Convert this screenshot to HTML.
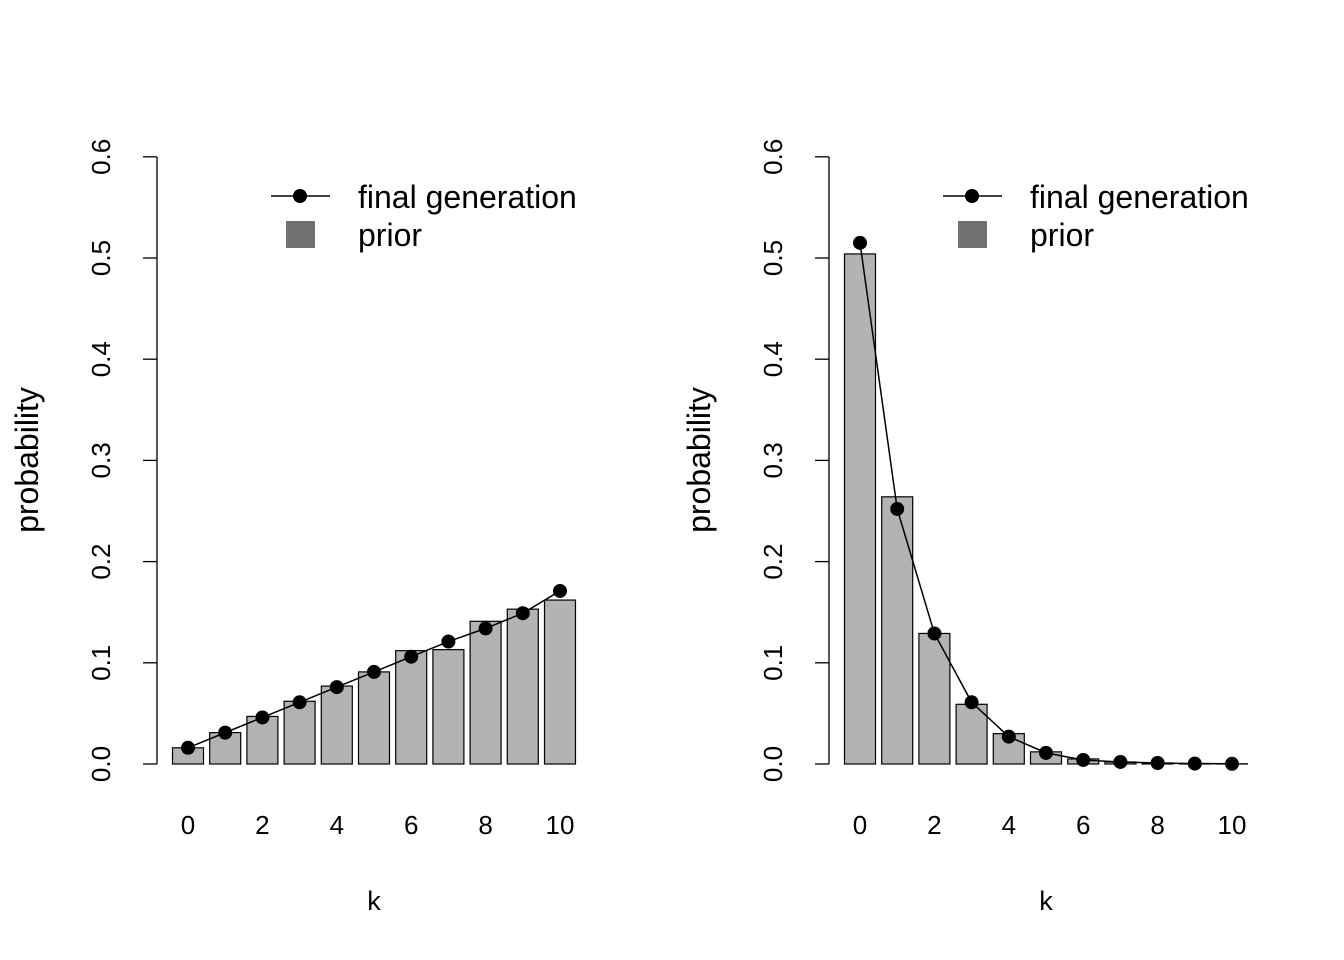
<!DOCTYPE html>
<html><head><meta charset="utf-8"><style>
body{margin:0;background:#fff}
svg{display:block;font-family:"Liberation Sans",Arial,sans-serif}
</style></head><body>
<svg id="c" width="1344" height="960"></svg>
<script>
const categories=[0,1,2,3,4,5,6,7,8,9,10];
const xTickLabels=["0","2","4","6","8","10"];
const yTickLabels=["0.0","0.1","0.2","0.3","0.4","0.5","0.6"];
const leftPrior=[0.016,0.031,0.047,0.062,0.077,0.091,0.112,0.113,0.141,0.153,0.162];
const leftFinal=[0.016,0.031,0.046,0.061,0.076,0.091,0.106,0.121,0.134,0.149,0.171];
const rightPrior=[0.504,0.264,0.129,0.059,0.030,0.012,0.005,0.002,0.001,0.0005,0.0002];
const rightFinal=[0.515,0.252,0.129,0.061,0.027,0.011,0.004,0.002,0.001,0.0004,0.0002];
const NS="http://www.w3.org/2000/svg";
const svg=document.getElementById('c');
function mk(tag,attrs,parent){const e=document.createElementNS(NS,tag);for(const k in attrs)e.setAttribute(k,attrs[k]);(parent||svg).appendChild(e);return e;}
function panel(off,prior,fin,name){
  const g=mk('g',{});
  
  
  const y=v=>764-v*1012;
  const x=k=>188+off+k*37.2;
  const ax=mk('line',{x1:157+off,x2:157+off,y1:157,y2:764,stroke:'#000','stroke-width':1.3},g);
  
  
  yTickLabels.forEach((t,i)=>{
    const v=i*0.1;
    mk('line',{x1:143+off,x2:157+off,y1:y(v),y2:y(v),stroke:'#000','stroke-width':1.3},g);
    const tx=mk('text',{x:0,y:0,'font-size':26,'text-anchor':'middle',transform:`translate(${110+off},${y(v)}) rotate(-90)`},g);
    tx.textContent=t;
    
    
  });
  categories.forEach((c,i)=>{
    const r=mk('rect',{x:x(c)-15.5,y:y(prior[i]),width:31,height:764-y(prior[i]),fill:'#b3b3b3',stroke:'#000','stroke-width':1.2},g);
    
    
  });
  const pl=mk('polyline',{points:categories.map((c,i)=>x(c)+','+y(fin[i])).join(' '),fill:'none',stroke:'#000','stroke-width':1.5},g);
  
  
  categories.forEach((c,i)=>{
    const p=mk('circle',{cx:x(c),cy:y(fin[i]),r:7,fill:'#000'},g);
    
    
  });
  xTickLabels.forEach(t=>{
    const tx=mk('text',{x:x(+t),y:834,'font-size':26,'text-anchor':'middle'},g);
    tx.textContent=t;
    
    
  });
  const xl=mk('text',{x:374+off,y:910,'font-size':27,'text-anchor':'middle'},g);
  xl.textContent='k';
  
  
  const yl=mk('text',{x:0,y:0,'font-size':32,'text-anchor':'middle',transform:`translate(${38+off},460) rotate(-90)`},g);
  yl.textContent='probability';
  
  
  const lg=mk('g',{},g);
  
  
  mk('line',{x1:271+off,x2:330+off,y1:196,y2:196,stroke:'#000','stroke-width':1.5},lg);
  mk('circle',{cx:300+off,cy:196,r:7,fill:'#000'},lg);
  mk('rect',{x:286+off,y:221,width:29,height:27,fill:'#707070'},lg);
  const t1=mk('text',{x:358+off,y:208,'font-size':32},lg);
  t1.textContent='final generation';
  
  
  const t2=mk('text',{x:358+off,y:246,'font-size':32},lg);
  t2.textContent='prior';
  
  
}
panel(0,leftPrior,leftFinal,'left-panel');
panel(672,rightPrior,rightFinal,'right-panel');
</script>
</body></html>
